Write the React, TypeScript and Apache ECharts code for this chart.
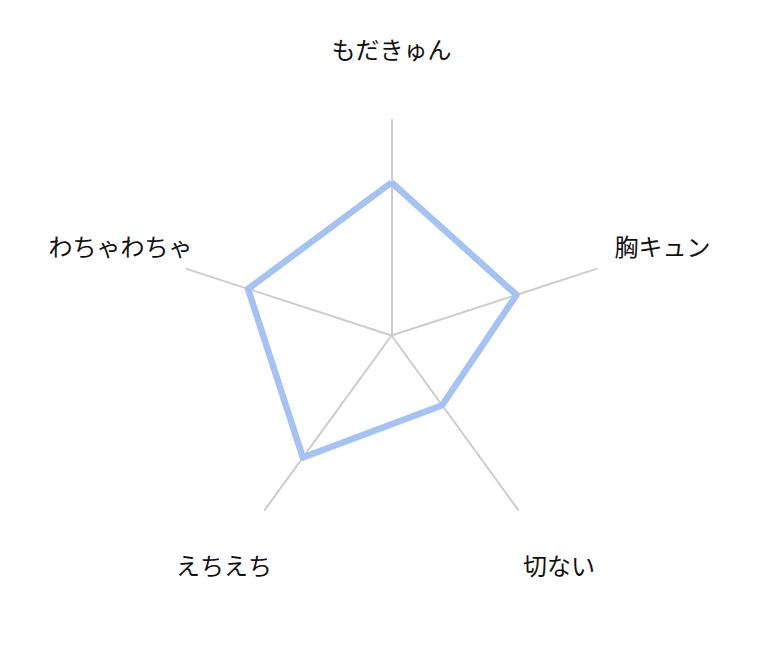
import React, { useEffect, useRef } from 'react'
import * as echarts from 'echarts'

const indicators = ['もだきゅん', 'わちゃわちゃ', 'えちえち', '切ない', '胸キュン']
const values = [7.1, 7, 7, 4, 6.1]
const maxValue = 10

const CX = 391.5
const CY = 335.5
const RADIUS = 215.5
const LABEL_R = 285

const App: React.FC = () => {
  const ref = useRef<HTMLDivElement>(null)

  useEffect(() => {
    if (!ref.current) return
    const chart = echarts.init(ref.current, undefined, { renderer: 'svg' })

    // 軸ラベルは円周上に中央揃えで配置
    const labels = indicators.map((name, i) => {
      const a = ((90 + (i * 360) / indicators.length) * Math.PI) / 180
      return {
        type: 'text',
        x: CX + LABEL_R * Math.cos(a),
        y: CY - LABEL_R * Math.sin(a) - 2,
        style: {
          text: name,
          fill: '#111111',
          font: '24px "Noto Sans CJK JP"',
          align: 'center',
          verticalAlign: 'middle',
        },
      }
    })

    chart.setOption({
      animation: false,
      backgroundColor: '#ffffff',
      radar: {
        center: [CX, CY],
        radius: RADIUS,
        startAngle: 90,
        indicator: indicators.map(name => ({ name, max: maxValue, min: 0 })),
        axisName: { show: false },
        splitLine: { show: false },
        splitArea: { show: false },
        axisLine: { lineStyle: { color: '#cccccc', width: 2 } },
        axisTick: { show: false },
        axisLabel: { show: false },
      },
      graphic: labels,
      series: [{
        type: 'radar',
        symbol: 'none',
        lineStyle: { color: '#a4c2f4', width: 6.5 },
        data: [{ value: values }],
      }],
    })

    return () => chart.dispose()
  }, [])

  return (
    <div
      ref={ref}
      style={{ position: 'fixed', left: 0, top: 0, width: 782, height: 672 }}
    />
  )
}

export default App
